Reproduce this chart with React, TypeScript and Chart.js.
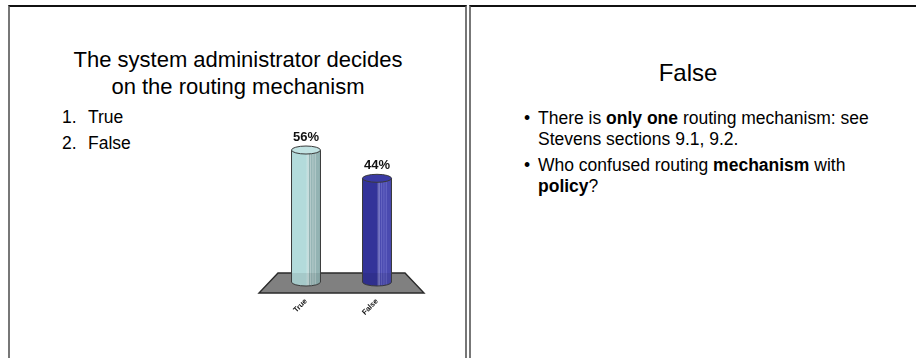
import React, { useEffect, useRef } from "react";
import { Chart, registerables } from "chart.js";

Chart.register(...registerables);

const categories = ["True", "False"];
const percentValues = [56, 44];
const valueLabels = ["56%", "44%"];
const barColors = ["#b3dbdb", "#333399"];
const stripeColors = ["#93b3b3", "#4a4ab0"];
const topColors = ["#c2e3e3", "#3a3aa4"];

const titleLines = ["The system administrator decides", "on the routing mechanism"];
const answerOptions = ["True", "False"];

const FONT = '"Liberation Sans", Arial, Helvetica, sans-serif';

const cylinderPlugin = {
  id: "cylinder",
  beforeDatasetsDraw(chart: any) {
    const { ctx, chartArea } = chart;
    const y0 = chart.scales.y.getPixelForValue(0);
    ctx.save();
    ctx.beginPath();
    ctx.moveTo(chartArea.left + 7.5, y0 - 9);
    ctx.lineTo(chartArea.right - 7.5, y0 - 9);
    ctx.lineTo(chartArea.right + 11.5, y0 + 11);
    ctx.lineTo(chartArea.left - 11.5, y0 + 11);
    ctx.closePath();
    ctx.fillStyle = "#808080";
    ctx.fill();
    ctx.lineWidth = 1.4;
    ctx.strokeStyle = "#2a2a2a";
    ctx.stroke();
    ctx.restore();
  },
  afterDatasetsDraw(chart: any) {
    const { ctx } = chart;
    const meta = chart.getDatasetMeta(0);
    const y0 = chart.scales.y.getPixelForValue(0);
    meta.data.forEach((bar: any, i: number) => {
      const { x, y, base, width } = bar.getProps(["x", "y", "base", "width"], true);
      const rx = width / 2;
      const ry = 4;
      const l = x - rx;
      const r = x + rx;
      ctx.save();
      ctx.beginPath();
      ctx.moveTo(l, y);
      ctx.lineTo(l, base);
      ctx.ellipse(x, base, rx, ry, 0, Math.PI, 0, true);
      ctx.lineTo(r, y);
      ctx.closePath();
      ctx.fillStyle = barColors[i];
      ctx.fill();
      ctx.save();
      ctx.clip();
      const g = ctx.createLinearGradient(l, 0, r, 0);
      g.addColorStop(0, "rgba(255,255,255,0.05)");
      g.addColorStop(0.5, "rgba(255,255,255,0)");
      g.addColorStop(0.62, stripeColors[i]);
      g.addColorStop(1, stripeColors[i]);
      ctx.fillStyle = g;
      ctx.fillRect(l + width * 0.5, y - 10, width * 0.5, base - y + 20);
      ctx.strokeStyle = i === 0 ? "rgba(255,255,255,0.35)" : "rgba(140,140,220,0.45)";
      ctx.lineWidth = 1;
      [0.58, 0.66, 0.74, 0.82].forEach((f) => {
        ctx.beginPath();
        ctx.moveTo(l + width * f, y - 10);
        ctx.lineTo(l + width * f, base + 10);
        ctx.stroke();
      });
      ctx.fillStyle = "rgba(0,0,0,0.08)";
      ctx.fillRect(l - 2, y0 - 9, width + 4, 30);
      ctx.restore();
      ctx.beginPath();
      ctx.moveTo(l, y);
      ctx.lineTo(l, base);
      ctx.ellipse(x, base, rx, ry, 0, Math.PI, 0, true);
      ctx.lineTo(r, y);
      ctx.strokeStyle = "#3a3a3a";
      ctx.lineWidth = 1;
      ctx.stroke();
      ctx.beginPath();
      ctx.ellipse(x, y, rx, ry, 0, 0, Math.PI * 2);
      ctx.fillStyle = topColors[i];
      ctx.fill();
      ctx.stroke();
      ctx.fillStyle = "#111";
      ctx.font = `bold 13px ${FONT}`;
      ctx.textAlign = "center";
      ctx.textBaseline = "alphabetic";
      ctx.fillText(valueLabels[i], x, y - ry - 5);
      ctx.restore();
    });
  },
};

function BarChart() {
  const ref = useRef<HTMLCanvasElement | null>(null);
  useEffect(() => {
    if (!ref.current) return;
    const chart = new Chart(ref.current, {
      type: "bar",
      data: {
        labels: categories,
        datasets: [
          {
            data: percentValues,
            backgroundColor: barColors,
            borderWidth: 0,
            barPercentage: 0.408,
            categoryPercentage: 1,
          },
        ],
      },
      options: {
        responsive: false,
        animation: false,
        layout: { padding: { left: 30.5, right: 37.5, top: 20.6, bottom: 18 } },
        plugins: { legend: { display: false }, tooltip: { enabled: false } },
        scales: {
          x: {
            grid: { display: false, drawTicks: false },
            border: { display: false },
            ticks: {
              minRotation: 45,
              maxRotation: 45,
              padding: 15,
              color: "#111",
              font: { family: FONT, size: 7.5, weight: "bold" },
            },
            afterFit(scale: any) {
              scale.height = 40;
            },
          },
          y: { display: false, min: 0, max: 60 },
        },
      },
      plugins: [cylinderPlugin],
    });
    return () => chart.destroy();
  }, []);
  return (
    <canvas
      ref={ref}
      width={210}
      height={220}
      style={{ position: "absolute", left: 240, top: 120, width: 210, height: 220 }}
    />
  );
}

export default function App() {
  const abs = (o: any) => ({ position: "absolute" as const, ...o });
  return (
    <div
      style={{
        position: "absolute",
        left: 0,
        top: 0,
        width: 916,
        height: 358,
        overflow: "hidden",
        background: "#fff",
        fontFamily: FONT,
        color: "#000",
      }}
    >
      <div
        style={abs({
          left: 8,
          top: 5,
          width: 459,
          height: 400,
          boxSizing: "border-box",
          borderTop: "2px solid #111",
          borderLeft: "2px solid #777",
          borderRight: "2px solid #777",
        })}
      />
      <div
        style={abs({
          left: 469,
          top: 5,
          width: 500,
          height: 400,
          boxSizing: "border-box",
          borderTop: "2px solid #111",
          borderLeft: "2px solid #777",
        })}
      />
      <div
        style={abs({
          left: 38,
          width: 400,
          top: 46,
          fontSize: 22,
          lineHeight: "27px",
          textAlign: "center",
          whiteSpace: "nowrap",
        })}
      >
        {titleLines.map((t) => (
          <div key={t}>{t}</div>
        ))}
      </div>
      <div style={abs({ left: 62, top: 104, fontSize: 17.5, lineHeight: "26px" })}>
        {answerOptions.map((a, i) => (
          <div key={a} style={{ position: "relative", height: 26 }}>
            <span>{i + 1}.</span>
            <span style={{ position: "absolute", left: 26 }}>{a}</span>
          </div>
        ))}
      </div>
      <BarChart />
      <div
        style={abs({
          left: 588,
          width: 200,
          top: 58,
          fontSize: 24,
          lineHeight: "30px",
          textAlign: "center",
        })}
      >
        False
      </div>
      <div style={abs({ left: 524, top: 108, width: 380, fontSize: 17.5, lineHeight: "21px" })}>
        <div style={{ position: "relative", paddingLeft: 14 }}>
          <span style={{ position: "absolute", left: 0 }}>•</span>
          There is <b>only one</b> routing mechanism: see
          <br />
          Stevens sections 9.1, 9.2.
        </div>
        <div style={{ position: "relative", paddingLeft: 14, marginTop: 5 }}>
          <span style={{ position: "absolute", left: 0 }}>•</span>
          Who confused routing <b>mechanism</b> with
          <br />
          <b>policy</b>?
        </div>
      </div>
    </div>
  );
}
